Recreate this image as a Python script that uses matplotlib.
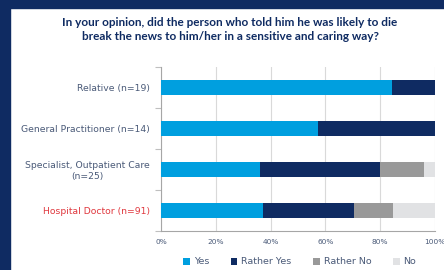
import matplotlib.pyplot as plt
from matplotlib.patches import Rectangle
import numpy as np

# data (shares per answer)
categories = ['Relative (n=19)', 'General Practitioner (n=14)',
              'Specialist, Outpatient Care\n(n=25)', 'Hospital Doctor (n=91)']
answers = ['Yes', 'Rather Yes', 'Rather No', 'No']
yes = [16/19, 8/14, 9/25, 34/91]
rather_yes = [3/19, 6/14, 11/25, 30/91]
rather_no = [0, 0, 4/25, 13/91]
no = [0, 0, 1/25, 14/91]

colors = ['#009FDF', '#0F2B62', '#999999', '#E1E2E4']
navy = '#0F2B62'
label_col = '#4A5A78'

fig = plt.figure(figsize=(4.44, 2.70), dpi=100)

# navy frame on left and top
fig.patches.append(Rectangle((0, 0), 10/444, 1, transform=fig.transFigure, color=navy, zorder=0))
fig.patches.append(Rectangle((0, 1 - 8/270), 1, 8/270, transform=fig.transFigure, color=navy, zorder=0))

ax = fig.add_axes([161/444, 39/270, 274/444, 164/270])

y = np.arange(len(categories))
left = np.zeros(len(categories))
for vals, name, c in zip([yes, rather_yes, rather_no, no], answers, colors):
    ax.barh(y, vals, left=left, height=0.39, color=c, label=name, zorder=3)
    left += np.array(vals)

ax.set_xlim(0, 1)
ax.set_ylim(3.5, -0.5)
ax.set_xticks(np.arange(0, 1.01, 0.2))
ax.set_xticklabels([f'{int(v*100)}%' for v in np.arange(0, 1.01, 0.2)])
ax.grid(axis='x', color='#D9D9D9', linewidth=0.8, zorder=0)

ax.set_yticks(np.arange(-0.5, 4, 1))
ax.set_yticklabels([])
ax.set_yticks(y, minor=True)
ax.set_yticklabels(categories, minor=True, fontsize=6.7, color=label_col, multialignment='center')
ax.tick_params(axis='y', which='minor', length=0, pad=8)
ax.tick_params(axis='y', which='major', length=4, color='#BFBFBF')
ax.tick_params(axis='x', length=0, labelsize=5.3, labelcolor=label_col, pad=6)
ax.get_yticklabels(minor=True)[3].set_color('#E0383E')

for s in ['top', 'right']:
    ax.spines[s].set_visible(False)
for s in ['left', 'bottom']:
    ax.spines[s].set_color('#A6A6A6')

fig.text(0.518, 1 - 29.5/270, 'In your opinion, did the person who told him he was likely to die\nbreak the news to him/her in a sensitive and caring way?',
         ha='center', va='center', fontsize=8.5, fontweight='bold', color=navy,
         family='Lato', linespacing=1.35)

fig.legend(loc='center', bbox_to_anchor=(0.675, 8/270), ncol=4, frameon=False,
           fontsize=6.8, labelcolor=label_col, handlelength=0.7, handleheight=0.7,
           handletextpad=0.4, columnspacing=2.3)

plt.savefig('out.png', dpi=100)
